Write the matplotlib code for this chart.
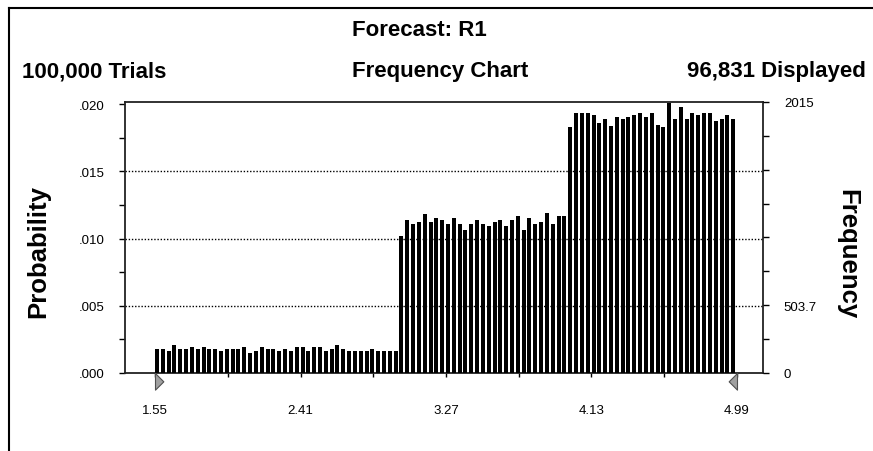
import numpy as np
import matplotlib
matplotlib.use("Agg")
import matplotlib.pyplot as plt
from matplotlib.lines import Line2D

plt.rcParams["font.family"] = ["Liberation Sans", "DejaVu Sans"]

# ===================== DATA =====================
x_min, x_max = 1.55, 4.99
x_tick_labels = ["1.55", "2.41", "3.27", "4.13", "4.99"]

# probability per bin (100 bins between 1.55 and 4.99)
low_probs = [.00179, .00179, .00164, .00208, .00179, .00179, .00194, .00179, .00194, .00179,
             .00179, .00164, .00179, .00179, .00179, .00194, .00149, .00164, .00194, .00179,
             .00179, .00164, .00179, .00164, .00194, .00194, .00164, .00194, .00194, .00164,
             .00179, .00208, .00179, .00164, .00164, .00164, .00164, .00179, .00164, .00164,
             .00164, .00164]
mid_probs = [.01022, .01134, .01107, .01122, .01179, .01122, .01149, .01134, .01107, .01149,
             .01107, .01065, .01107, .01134, .01107, .01092, .01122, .01134, .01092, .01134,
             .01164, .01065, .01149, .01107, .01122, .01191, .01107, .01164, .01164]
top_probs = [.01829, .01934, .01934, .01934, .01916, .01862, .01891, .01834, .01904, .01891,
             .01904, .01921, .01934, .01904, .01934, .01847, .01829, .02005, .01891, .01978,
             .01891, .01934, .01921, .01934, .01934, .01874, .01891, .01921, .01891]

prob_ticks = [0.0, 0.005, 0.010, 0.015, 0.020]
prob_tick_labels = [".000", ".005", ".010", ".015", ".020"]
grid_levels = [0.005, 0.010, 0.015]

freq_max = 2015
freq_ticks = [0, 503.7, 2015]
freq_tick_labels = ["0", "503.7", "2015"]

title = "Forecast: R1"
left_note = "100,000 Trials"
mid_note = "Frequency Chart"
right_note = "96,831 Displayed"

# ===================== FIGURE =====================
W, H = 873, 452
fig = plt.figure(figsize=(W / 100, H / 100), dpi=100)
ax = fig.add_axes([125 / W, 1 - 374 / H, (763 - 125) / W, (374 - 103) / H])

probs = np.array(low_probs + mid_probs + top_probs)
n = len(probs)
bin_w = (x_max - x_min) / n
lefts = x_min + np.arange(n) * bin_w

ax.bar(lefts, probs, width=bin_w * 0.69, align="edge", color="black",
       linewidth=0, zorder=3)

for g in grid_levels:
    ax.axhline(g, color="black", linewidth=1.0, linestyle=(0, (1, 1.3)), zorder=1)

px_per_unit = (737 - 155) / (x_max - x_min)
ax.set_xlim(x_min - 30 / px_per_unit, x_max + 26 / px_per_unit)
y_top = freq_max / 100000
ax.set_ylim(0, y_top)

# x ticks
step = (x_max - x_min) / (len(x_tick_labels) - 1)
ax.set_xticks([x_min + i * step for i in range(len(x_tick_labels))])
ax.set_xticklabels(x_tick_labels)
ax.set_xticks([x_min + (i + 0.5) * step for i in range(len(x_tick_labels) - 1)], minor=True)
ax.tick_params(axis="x", which="both", direction="out", length=3, width=1.0,
               pad=19, labelsize=9.5)

# left ticks
ax.set_yticks(prob_ticks)
ax.set_yticklabels(prob_tick_labels)
ax.set_yticks([0.0025, 0.0075, 0.0125, 0.0175], minor=True)
ax.tick_params(axis="y", which="both", direction="out", length=4, width=1.0,
               pad=11, labelsize=9.5)

for s in ax.spines.values():
    s.set_linewidth(1.3)
    s.set_color("#222222")

# right frequency axis
ax2 = ax.twinx()
ax2.set_ylim(0, freq_max)
ax2.set_yticks(freq_ticks)
ax2.set_yticklabels(freq_tick_labels)
ax2.set_yticks([freq_max * k / 8 for k in (1, 3, 4, 5, 6, 7)], minor=True)
ax2.tick_params(axis="y", which="both", direction="out", length=4, width=1.0,
                pad=11, labelsize=9.5)
for s in ax2.spines.values():
    s.set_visible(False)

# certainty grabbers
left_tri = [(0, 0), (0, -1), (0.5, -0.5), (0, 0)]
right_tri = [(0, 0), (0, -1), (-0.5, -0.5), (0, 0)]
ax.plot([x_min], [0], marker=left_tri, markersize=24, markerfacecolor="#a0a0a0",
        markeredgecolor="#505050", markeredgewidth=0.8, clip_on=False, zorder=6)
ax.plot([x_max], [0], marker=right_tri, markersize=24, markerfacecolor="#a0a0a0",
        markeredgecolor="#505050", markeredgewidth=0.8, clip_on=False, zorder=6)

# ===================== TEXT =====================
fig.text(352 / W, 1 - 31 / H, title, ha="left", va="center",
         fontsize=16, fontweight="bold")
fig.text(22 / W, 1 - 72 / H, left_note, ha="left", va="center",
         fontsize=16, fontweight="bold")
fig.text(352 / W, 1 - 72 / H, mid_note, ha="left", va="center",
         fontsize=16, fontweight="bold")
fig.text(866 / W, 1 - 72 / H, right_note, ha="right", va="center",
         fontsize=16, fontweight="bold")

fig.text(38 / W, 1 - 251 / H, "Probability", rotation=90, ha="center", va="center",
         fontsize=18.5, fontweight="bold")
fig.text(847 / W, 1 - 254 / H, "Frequency", rotation=270, ha="center", va="center",
         fontsize=18.5, fontweight="bold")

# outer frame (top and left edges)
fig.add_artist(Line2D([9 / W, 1], [1 - 9 / H, 1 - 9 / H], color="black", linewidth=1.5))
fig.add_artist(Line2D([9 / W, 9 / W], [0, 1 - 9 / H], color="black", linewidth=1.5))

fig.savefig("out.png", dpi=100)
